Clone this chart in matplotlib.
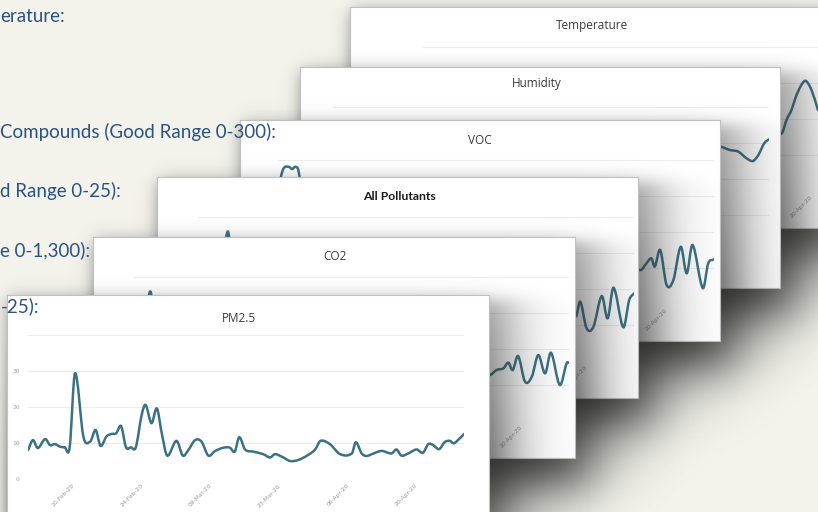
import numpy as np
import matplotlib
matplotlib.use("Agg")
import matplotlib.pyplot as plt
from matplotlib.path import Path
from matplotlib.patches import PathPatch

# ── Data (day offsets from 01-Feb-20) ────────────────────────────────────────
tick_days = [9, 23, 37, 51, 65, 79]
tick_labels = ["10-Feb-20", "24-Feb-20", "09-Mar-20", "23-Mar-20", "06-Apr-20", "20-Apr-20"]

pm25_day = [0, 1, 2, 3.5, 4.5, 5.5, 6.5, 7.5, 8.5, 9.6, 11.3, 12.7, 13.8, 14.8,
            16, 17, 18, 19, 20, 21, 22, 23.2, 24, 25.2, 26.3, 27.3, 28.4, 30.3,
            31.6, 32.7, 34.1, 35.4, 36.8, 38.2, 39.9, 41.2, 42.2, 43.1, 44.3, 46,
            48, 49.4, 50.4, 51.8, 53.5, 55.2, 57.2, 58.6, 59.7, 61.6, 63.7, 66.1,
            66.9, 68.1, 69.1, 70.5, 72.2, 74.2, 75.2, 76.2, 77.6, 79.3, 80.6, 81.7,
            82.7, 83.9, 85.1, 86.1, 86.9, 88.1, 89]
pm25_val = [8.0, 10.8, 8.6, 11.1, 9.4, 9.7, 9.0, 8.8, 8.8, 29.4, 11.8, 10.4, 13.6, 9.2,
            11.8, 12.5, 12.7, 14.7, 8.8, 8.8, 8.8, 17.8, 20.6, 15.5, 19.6, 12.7, 6.5, 10.6,
            6.5, 8.0, 10.8, 10.4, 6.5, 7.8, 8.7, 8.7, 7.6, 11.6, 8.2, 7.6,
            6.9, 6.0, 6.9, 6.2, 5.0, 5.3, 6.7, 8.2, 10.6, 9.7, 6.9, 7.1,
            10.2, 7.1, 6.4, 7.1, 7.8, 7.1, 8.2, 6.5, 7.1, 8.2, 7.3, 9.7,
            9.4, 8.3, 10.3, 10.6, 9.9, 11.3, 12.5]

co2_day = [2, 3.5, 5, 72.4, 72.9, 74.2, 75.6, 76.6, 77.5, 78.6, 80, 81.4, 82.7,
           84.1, 85.3, 87.1, 88.5, 89]
co2_val = [420, 900, 500, 331, 319, 354, 366, 405, 354, 451, 273, 308, 458,
           331, 474, 250, 401, 405]

allp_day = [4.5, 6.1, 7.5, 77.1, 78.0, 79.3, 80.7, 82.4, 83.6, 84.8, 86.8, 88.0, 89]
allp_val = [40, 90, 40, 30.8, 41.2, 22.7, 23.8, 45.1, 29.6, 50.9, 23.4, 42.3, 47.0]

voc_day = [0, 0.6, 1.2, 2.2, 2.9, 3.5, 4.1, 4.4, 5.5, 73.9, 75.2, 76.2, 76.9,
           78.0, 79.3, 80.7, 82.2, 83.4, 84.6, 86.7, 87.8, 89]
voc_val = [300, 353, 378, 381, 375, 381, 375, 353, 290, 94, 113, 127, 104,
           150, 53, 67, 159, 85, 164, 44, 113, 124]

hum_day = [70, 79.0, 81.0, 82.7, 84.4, 85.7, 86.8, 88.0, 89]
hum_val = [58, 57.9, 56.1, 55.2, 51.5, 50.0, 53.3, 59.8, 62.1]

temp_day = [70, 73.2, 74.2, 75.2, 76.1, 77.2, 78.1, 79.3, 80.6]
temp_val = [8.0, 8.0, 9.9, 11.25, 13.1, 14.7, 15.3, 14.0, 11.25]

card_titles = ["Temperature", "Humidity", "VOC", "All Pollutants", "CO2", "PM2.5"]
card_steps = [5, 20, 100, 25, 250, 10]

side_texts = ["erature:", "Compounds (Good Range 0-300):", "d Range 0-25):",
              "e 0-1,300):", "-25):"]

# ── Layout (pixels) ──────────────────────────────────────────────────────────
W, H = 818, 512
card_left = [350, 300, 240, 157, 93, 7]
card_top = [7, 67, 120, 177, 237, 295]
card_w = [484, 480, 480, 481, 482, 482]
card_h = 221
plot_x0 = [423, 333, 278, 198, 133, 28]
title_x = [592, 537, 480, 399, 335, 239]
title_dy = [19, 16, 20, 20, 19, 23]
side_y = [17, 132, 191, 250, 306]

BG = "#f3f3ec"
LINE = "#3b7185"
TEXT_BLUE = "#2a5283"
PX_PER_DAY = 4.9


def frac(l, t, w, h):
    return [l / W, 1 - (t + h) / H, w / W, h / H]


def sig(z):
    return 1.0 / (1.0 + np.exp(np.clip(-z, -50, 50)))


def card_shadow(l, t, w, h):
    """Soft drop shadow, heavier towards the lower right of the card."""
    X, Y = np.meshgrid(np.arange(W) + 0.5, np.arange(H) + 0.5)
    r, b = l + w, t + h
    sx = sig((X - (l + 2)) / 5) * sig(((r + 16) - X) / 18)
    sy = sig((Y - (t + 4)) / 5) * sig(((b + 26) - Y) / 16)
    ramp = 0.55 + 0.5 * np.clip((Y - t) / h, 0, 1.3)
    rgba = np.zeros((H, W, 4))
    rgba[..., :3] = 0.16
    rgba[..., 3] = np.clip(0.95 * sx * sy * ramp, 0, 0.92)
    return rgba


def spline_path(xs, ys):
    """Smooth curve through the points (cubic Hermite as Bezier segments)."""
    x = np.asarray(xs, float)
    y = np.asarray(ys, float)
    n = len(x)
    m = np.zeros(n)
    for k in range(n):
        a, b = max(k - 1, 0), min(k + 1, n - 1)
        m[k] = (y[b] - y[a]) / (x[b] - x[a])
    verts, codes = [(x[0], y[0])], [Path.MOVETO]
    for k in range(n - 1):
        d = (x[k + 1] - x[k]) / 3
        verts += [(x[k] + d, y[k] + m[k] * d),
                  (x[k + 1] - d, y[k + 1] - m[k + 1] * d),
                  (x[k + 1], y[k + 1])]
        codes += [Path.CURVE4] * 3
    return Path(verts, codes)


series = [(temp_day, temp_val), (hum_day, hum_val), (voc_day, voc_val),
          (allp_day, allp_val), (co2_day, co2_val), (pm25_day, pm25_val)]

fig = plt.figure(figsize=(W / 100, H / 100), dpi=100)
fig.patch.set_facecolor(BG)

for i, (title, (days, vals)) in enumerate(zip(card_titles, series)):
    l, t, w = card_left[i], card_top[i], card_w[i]
    z = 10 * i + 10
    front = i == len(card_titles) - 1

    fig.figimage(card_shadow(l, t, w, card_h), xo=0, yo=0, origin="upper", zorder=z)

    card = fig.add_axes(frac(l, t, w, card_h), zorder=z + 2)
    card.set_facecolor("white")
    card.set_xticks([])
    card.set_yticks([])
    for sp in card.spines.values():
        sp.set_color("#c0c0c0")
        sp.set_linewidth(0.8)
    bold = title == "All Pollutants"
    card.text((title_x[i] - l) / w, 1 - title_dy[i] / card_h, title,
              transform=card.transAxes, ha="center", va="center",
              fontsize=8.8 if bold else 8.5, color="#1a1a1a" if bold else "#3a3a3a",
              fontweight="bold" if bold else "normal",
              family="Lato" if bold else "Open Sans")

    # plot area: day 0..89, zero line 184 px below card top, 36 px per step
    ax = fig.add_axes(frac(plot_x0[i], t + 40, PX_PER_DAY * 89, 144), zorder=z + 3)
    ax.patch.set_alpha(0)
    ax.add_patch(PathPatch(spline_path(days, vals), fill=False, edgecolor=LINE,
                           lw=1.8, joinstyle="round", capstyle="round"))
    step = card_steps[i]
    ax.set_xlim(0, 89)
    ax.set_ylim(0, 4 * step)
    ylabels = [f"{k * step:g}" for k in range(4)] + [""] if front else [""] * 5
    ax.set_yticks([k * step for k in range(5)], ylabels)
    ax.set_xticks(tick_days, tick_labels, rotation=45, ha="right",
                  rotation_mode="anchor")
    ax.tick_params(axis="x", length=0, pad=3, labelsize=4.3, labelcolor="#9a9a9a")
    ax.tick_params(axis="y", length=0, pad=6, labelsize=4.3, labelcolor="#a8a8a8")
    ax.yaxis.grid(True, color="#ededed", lw=0.8)
    ax.set_axisbelow(True)
    for sp in ax.spines.values():
        sp.set_visible(False)

for txt, y in zip(side_texts, side_y):
    fig.text(0.5 / W, 1 - y / H, txt, ha="left", va="center", fontsize=13.5,
             color=TEXT_BLUE, family="Lato", zorder=200)

fig.savefig("out.png", dpi=100, facecolor=BG)
